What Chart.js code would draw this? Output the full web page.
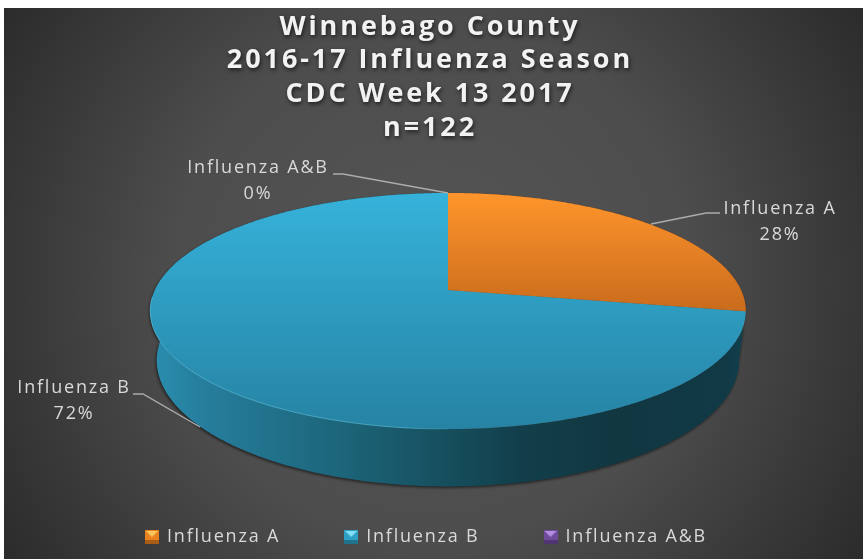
<!DOCTYPE html>
<html>
<head>
<meta charset="utf-8">
<style>html,body{margin:0;padding:0;background:#fff}canvas{display:block}</style>
<script src="https://cdn.jsdelivr.net/npm/chart.js@4"></script>
</head>
<body>
<canvas id="c" width="863" height="559"></canvas>
<script>
const categories = ['Influenza A', 'Influenza B', 'Influenza A&B'];
const counts = [34, 88, 0];
const titleLines = ['Winnebago County', '2016-17 Influenza Season', 'CDC Week 13 2017', 'n=122'];
const swatchColors = ['#e8811f', '#2f9fc4', '#6f4b9c'];
const swatchLights = ['#ffc45e', '#7fe0f5', '#b48ee0'];
const FONT = '"Open Sans"';

// Camera: perspective projection of the pie's top and base discs
const cam = { cx: 448, k: -0.178, top: { A: 293, B: 114.3, y0: 290 }, base: { A: 286.6, B: 122, y0: 338 } };
function proj(disc, a) {
  const u = Math.cos(a), v = Math.sin(a), w = 1 + cam.k * v;
  return [cam.cx + disc.A * u / w, disc.y0 + disc.B * v / w];
}
function samples(a0, a1) {
  const n = Math.max(2, Math.ceil((a1 - a0) / 0.01)), r = [];
  for (let i = 0; i <= n; i++) r.push(a0 + (a1 - a0) * i / n);
  return r;
}
function grad(ctx, x0, y0, x1, y1, stops) {
  const g = ctx.createLinearGradient(x0, y0, x1, y1);
  stops.forEach(s => g.addColorStop(s[0], s[1]));
  return g;
}

function swatch(i) {
  const c = document.createElement('canvas'); c.width = 14; c.height = 14;
  const x = c.getContext('2d');
  x.fillStyle = swatchColors[i]; x.fillRect(0, 0, 14, 14);
  x.fillStyle = 'rgba(0,0,0,.28)'; x.fillRect(0, 10, 14, 4);
  x.fillStyle = swatchLights[i];
  x.beginPath(); x.moveTo(1, 1); x.lineTo(13, 1); x.lineTo(7, 7); x.closePath(); x.fill();
  return c;
}

const calloutPlugin = {
  id: 'pie3d',
  beforeLayout(chart) { chart.ctx.letterSpacing = '1.8px'; },
  beforeDraw(chart) {
    const ctx = chart.ctx;
    ctx.save();
    ctx.fillStyle = '#fff'; ctx.fillRect(0, 0, 863, 559);
    const bg = ctx.createRadialGradient(433, 283, 0, 433, 283, 520);
    bg.addColorStop(0, '#555555'); bg.addColorStop(0.5, '#4d4d4d'); bg.addColorStop(1, '#2a2a2a');
    ctx.fillStyle = bg; ctx.fillRect(4, 8, 859, 551);
    ctx.restore();
    if (!chart.$wrapped) {
      chart.$wrapped = true;
      const tb = chart.titleBlock, td = tb.draw;
      tb.draw = function (a) {
        ctx.save();
        ctx.letterSpacing = '2.9px';
        ctx.shadowColor = 'rgba(0,0,0,.65)'; ctx.shadowBlur = 4; ctx.shadowOffsetX = 1; ctx.shadowOffsetY = 2;
        td.call(this, a);
        ctx.restore();
      };
      const lg = chart.legend, ld = lg.draw;
      lg.draw = function (a) {
        ctx.save();
        ctx.translate(-3.5, 538 - (this.top + this.options.labels.padding + 10));
        ld.call(this, a);
        ctx.restore();
      };
    }
  },
  beforeDatasetsDraw(chart) {
    const ctx = chart.ctx, arcs = chart.getDatasetMeta(0).data;
    const tops = [
      [[0, '#ff952b'], [1, '#c96b1d']],
      [[0, '#36b2da'], [1, '#2683a4']],
      [[0, '#8a63bb'], [1, '#5f4285']]
    ];
    const topSpan = [[193, 312], [193, 429], [193, 429]];
    const walls = [
      [[0, '#c96b1d'], [1, '#7c4110']],
      [[0, '#2a8fb0'], [0.08, '#267f9e'], [0.33, '#1c6478'], [0.5, '#164e5d'], [0.62, '#123f4b'], [0.78, '#113741'], [0.97, '#113a46'], [1, '#13404f']],
      [[0, '#5f4285'], [1, '#3a2852']]
    ];
    // side walls, drawn back to front
    [0, 2, 1].forEach(i => {
      const el = arcs[i];
      if (el.endAngle - el.startAngle < 1e-4) return;
      const s = samples(el.startAngle, el.endAngle);
      ctx.save();
      ctx.beginPath();
      s.forEach((a, j) => { const p = proj(cam.top, a); j ? ctx.lineTo(p[0], p[1]) : ctx.moveTo(p[0], p[1]); });
      s.slice().reverse().forEach(a => { const p = proj(cam.base, a); ctx.lineTo(p[0], p[1]); });
      ctx.closePath();
      ctx.shadowColor = 'rgba(0,0,0,.55)'; ctx.shadowBlur = 3; ctx.shadowOffsetY = 1.5; ctx.shadowOffsetX = -1;
      ctx.fillStyle = grad(ctx, 150, 0, 746, 0, walls[i]);
      ctx.fill();
      ctx.restore();
    });
    // top faces
    [1, 0, 2].forEach(i => {
      const el = arcs[i];
      if (el.endAngle - el.startAngle < 1e-4) return;
      ctx.save();
      ctx.beginPath();
      ctx.moveTo(cam.cx, cam.top.y0);
      samples(el.startAngle, el.endAngle).forEach(a => { const p = proj(cam.top, a); ctx.lineTo(p[0], p[1]); });
      ctx.closePath();
      ctx.fillStyle = grad(ctx, 0, topSpan[i][0], 0, topSpan[i][1], tops[i]);
      ctx.fill();
      ctx.restore();
    });
    // bevel highlight on the front rim of the largest slice
    ctx.save();
    ctx.beginPath();
    samples(Math.PI * 0.5, Math.PI * 0.98).forEach((a, j) => { const p = proj(cam.top, a); j ? ctx.lineTo(p[0], p[1]) : ctx.moveTo(p[0], p[1]); });
    ctx.lineWidth = 1;
    ctx.strokeStyle = grad(ctx, 150, 0, 470, 0, [[0, 'rgba(95,205,235,.55)'], [0.8, 'rgba(95,205,235,.55)'], [1, 'rgba(95,205,235,0)']]);
    ctx.stroke();
    ctx.restore();

    // callouts
    const total = counts.reduce((a, b) => a + b, 0);
    const callouts = [
      { i: 0, tx: 780, ty: 209, line: [[651, 224], [706, 213], [720, 213]] },
      { i: 1, tx: 74, ty: 388, line: [[133, 394], [143, 394], [200, 427]] },
      { i: 2, tx: 258, ty: 168, line: [[333, 174], [343, 174], [448, 193]] }
    ];
    ctx.save();
    callouts.forEach(c => {
      ctx.beginPath();
      c.line.forEach((p, j) => j ? ctx.lineTo(p[0], p[1]) : ctx.moveTo(p[0], p[1]));
      ctx.strokeStyle = '#acacac'; ctx.lineWidth = 1.4; ctx.stroke();
      ctx.font = '18px ' + FONT;
      ctx.letterSpacing = '1.8px';
      ctx.fillStyle = '#d9d9d9'; ctx.textAlign = 'center'; ctx.textBaseline = 'middle';
      ctx.fillText(categories[c.i], c.tx, c.ty);
      ctx.fillText(Math.round(counts[c.i] / total * 100) + '%', c.tx, c.ty + 26);
    });
    ctx.restore();
    return false;
  }
};

new Chart(document.getElementById('c'), {
  type: 'pie',
  data: {
    labels: categories,
    datasets: [{ data: counts, backgroundColor: swatchColors, borderWidth: 0 }]
  },
  plugins: [calloutPlugin],
  options: {
    responsive: false,
    animation: false,
    layout: { padding: { left: 0, right: 3, top: 0, bottom: 0 } },
    plugins: {
      tooltip: { enabled: false },
      title: {
        display: true,
        text: titleLines,
        color: '#f2f2f2',
        font: { family: FONT, size: 27, weight: 'bold', lineHeight: 1.25 },
        padding: { top: 10, bottom: 6 }
      },
      legend: {
        position: 'bottom',
        labels: {
          color: '#d9d9d9',
          font: { family: FONT, size: 18 },
          usePointStyle: true,
          boxWidth: 12,
          padding: 65,
          generateLabels(chart) {
            return Chart.overrides.pie.plugins.legend.labels.generateLabels(chart).map((l, i) => {
              l.pointStyle = swatch(i);
              l.fontColor = '#d9d9d9';
              l.hidden = false;
              return l;
            });
          }
        }
      }
    }
  }
});
</script>
</body>
</html>
